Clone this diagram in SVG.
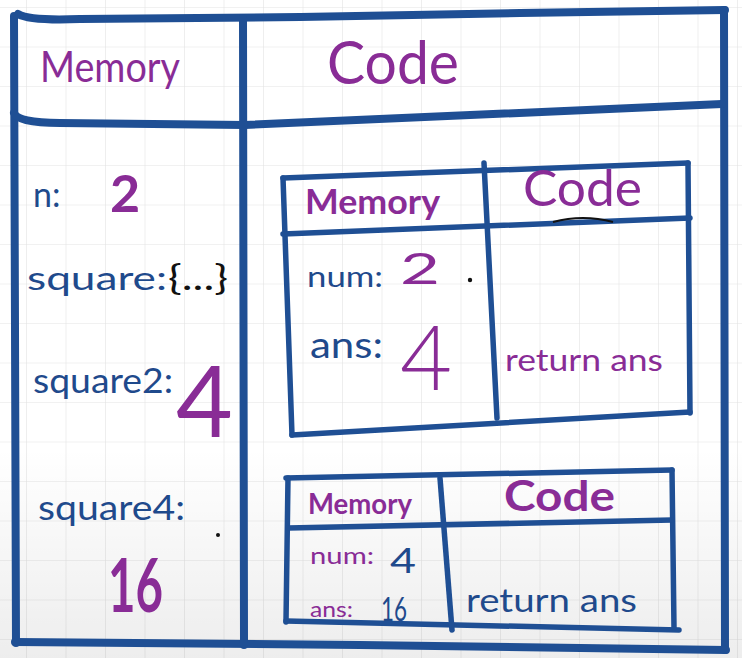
<svg xmlns="http://www.w3.org/2000/svg" width="742" height="658" viewBox="0 0 742 658">
<defs>
<pattern id="grid" x="26" y="7" width="39.5" height="39.5" patternUnits="userSpaceOnUse">
<path d="M0,0 L39.5,0 M0,0 L0,39.5" fill="none" stroke="#e3e3e3" stroke-width="1.2"/>
</pattern>
<linearGradient id="shade" x1="0" y1="0" x2="0" y2="1">
<stop offset="0" stop-color="#000" stop-opacity="0"/>
<stop offset="0.68" stop-color="#000" stop-opacity="0"/>
<stop offset="1" stop-color="#000" stop-opacity="0.07"/>
</linearGradient>
<style>
.frame{fill:none;stroke:#1f4f94;stroke-linecap:round;stroke-linejoin:round}
.outer{stroke-width:8}
.inner{stroke-width:5.5}
.t{font-family:Lato,"Open Sans","Liberation Sans",sans-serif}
.p{fill:#892c96}
.b{fill:#1f4a8c}
.k{fill:#111}
.bold{font-weight:bold}
</style>
</defs>
<rect width="742" height="658" fill="#fff"/>
<rect width="742" height="658" fill="url(#grid)"/>
<rect width="742" height="658" fill="url(#shade)"/>

<g id="connectors">
<g id="main-frame" class="frame outer">
<path d="M18,14 Q30,21 80,19 L300,17 L520,13 L725,10"/>
<path d="M14,16 L16,643"/>
<path d="M724,10 L725,650"/>
<path d="M15,642 L360,645 L726,650"/>
<path d="M14,113 Q18,123 60,123 L245,125 L722,104"/>
<path d="M243,18 L244,645"/>
</g>
<g id="ec1-frame" class="frame inner">
<path d="M283,178 L688,163"/>
<path d="M283,178 L292,435"/>
<path d="M292,435 L690,412"/>
<path d="M688,163 L690,413"/>
<path d="M283,234 L690,218"/>
<path d="M484,163 L497,418"/>
</g>
<g id="ec2-frame" class="frame inner">
<path d="M286,478 L672,470"/>
<path d="M288,478 L286,622"/>
<path d="M286,621 L679,630"/>
<path d="M672,470 L674,628"/>
<path d="M288,528 L672,520"/>
<path d="M440,478 L452,630"/>
</g>
</g>

<g id="global-header">
<text class="t p" x="40" y="82" font-size="42" textLength="140" lengthAdjust="spacingAndGlyphs">Memory</text>
<text class="t p" x="327" y="84" font-size="60" textLength="132" lengthAdjust="spacingAndGlyphs">Code</text>
</g>

<g id="global-memory">
<text class="t b" x="33" y="207" font-size="34">n:</text>
<text class="t p bold" x="110" y="212" font-size="52">2</text>
<text class="t b" x="27" y="290" font-size="32" textLength="140" lengthAdjust="spacingAndGlyphs">square:</text>
<text class="t k" x="168" y="290" font-size="34" textLength="60" lengthAdjust="spacingAndGlyphs">{...}</text>
<text class="t b" x="33" y="393" font-size="34" textLength="140" lengthAdjust="spacingAndGlyphs">square2:</text>
<text class="t p" x="176" y="437" font-size="98">4</text>
<text class="t b" x="38" y="520" font-size="34" textLength="147" lengthAdjust="spacingAndGlyphs">square4:</text>
<circle cx="218" cy="535" r="2" fill="#111"/>
<text class="t p bold" x="108" y="612" font-size="74" textLength="55" lengthAdjust="spacingAndGlyphs">16</text>
</g>

<g id="ec-square2">
<text class="t p bold" x="305" y="214" font-size="34" textLength="135" lengthAdjust="spacingAndGlyphs">Memory</text>
<text class="t p" x="523" y="206" font-size="50" textLength="119" lengthAdjust="spacingAndGlyphs">Code</text>
<path d="M553,222 Q583,214 613,222" fill="none" stroke="#111" stroke-width="2"/>
<text class="t b" x="307" y="287" font-size="28" textLength="76" lengthAdjust="spacingAndGlyphs">num:</text>
<text class="t p" x="400" y="284" font-size="42" textLength="40" lengthAdjust="spacingAndGlyphs">2</text>
<circle cx="470" cy="280" r="2.2" fill="#111"/>
<text class="t b" x="310" y="358" font-size="36" textLength="73" lengthAdjust="spacingAndGlyphs">ans:</text>
<text class="t p" x="400" y="390" font-size="90" font-weight="300">4</text>
<text class="t p" x="505" y="371" font-size="30" textLength="158" lengthAdjust="spacingAndGlyphs">return ans</text>
</g>

<g id="ec-square4">
<text class="t p bold" x="308" y="514" font-size="28" textLength="104" lengthAdjust="spacingAndGlyphs">Memory</text>
<text class="t p bold" x="504" y="511" font-size="42" textLength="111" lengthAdjust="spacingAndGlyphs">Code</text>
<text class="t p" x="310" y="564" font-size="24" textLength="64" lengthAdjust="spacingAndGlyphs">num:</text>
<text class="t b" x="390" y="573" font-size="34" textLength="26" lengthAdjust="spacingAndGlyphs">4</text>
<text class="t p" x="310" y="617" font-size="22" textLength="43" lengthAdjust="spacingAndGlyphs">ans:</text>
<text class="t b" x="381" y="621" font-size="32" textLength="26" lengthAdjust="spacingAndGlyphs">16</text>
<text class="t b" x="466" y="612" font-size="32" textLength="171" lengthAdjust="spacingAndGlyphs">return ans</text>
</g>
</svg>
